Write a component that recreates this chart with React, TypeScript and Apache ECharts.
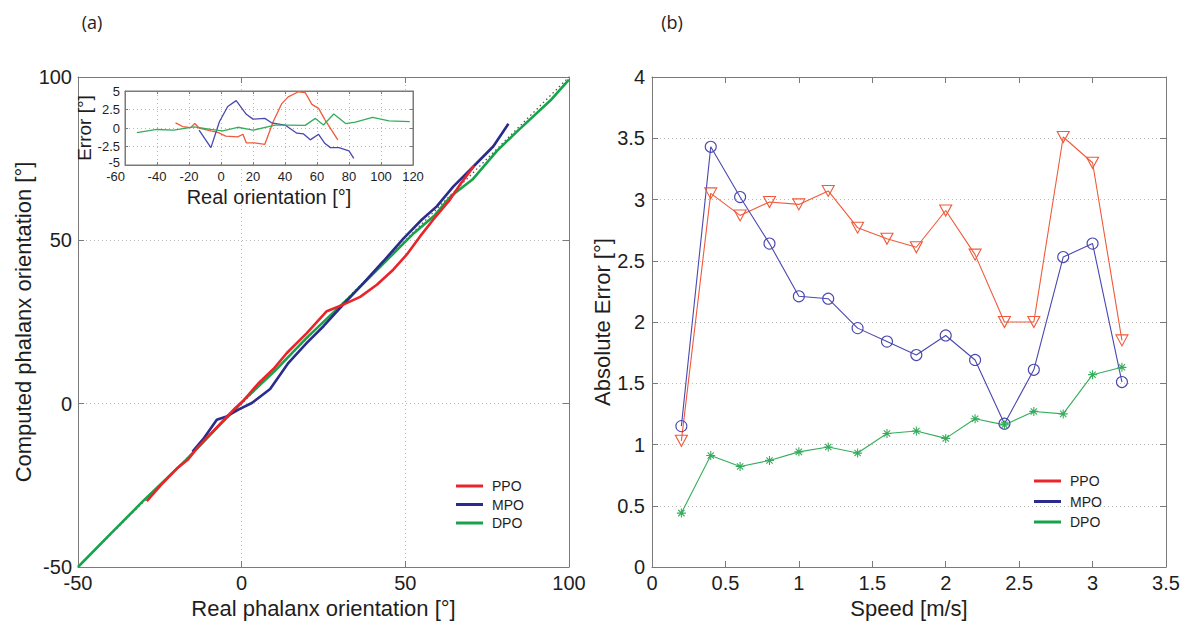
import React, { useEffect, useRef } from "react";
import * as echarts from "echarts";

// ---------- Panel (a): computed vs real orientation ----------
const ppoMain: [number, number][] = [
  [-29, -29.8], [-24, -24.2], [-19.5, -19.6], [-16.5, -17.2], [-13.5, -13.5], [-6.3, -5.9],
  [-2, -1.4], [0.5, 0.9], [5, 6.1], [9.7, 10.6], [13.8, 15.5], [19.9, 21.6], [26, 28.3],
  [31, 30.3], [36.2, 32.7], [41.3, 36.4], [46.3, 41], [50.4, 45.6], [54.5, 51.2],
  [58.5, 56.3], [63.6, 62.4], [67, 67.5], [71, 72.8],
];
const mpoMain: [number, number][] = [
  [-15, -14.7], [-11.5, -10.5], [-7.6, -4.9], [-4.6, -3.9], [-1, -1.8], [3.1, 0.2],
  [8.7, 4.5], [14.3, 12.5], [19.9, 18.6], [25, 23.7], [31, 30.3], [37.2, 36.9],
  [43.3, 43.6], [49.4, 50.5], [55, 56.3], [59.6, 60.4], [64.7, 66.5], [70.8, 72.6],
  [76.9, 78.8], [81.5, 85.7],
];
const dpoMain: [number, number][] = [
  [-50, -50], [-40, -39.8], [-30, -29.7], [-17, -17.2], [-6, -5.8], [1, 1.4], [10, 9.9],
  [20, 20.3], [33.7, 33.3], [42, 41.6], [52.6, 52.2], [59, 57.7], [64, 63.6], [70.5, 68.6],
  [78, 77.4], [84, 83.2], [94.7, 93.2], [100, 99.2],
];
const identityLine: [number, number][] = [[-50, -50], [100, 100]];

// ---------- Inset: error vs real orientation ----------
const ppoErr: [number, number][] = [
  [-28.4, 0.7], [-24, 0.2], [-19, 0.05], [-16.4, 0.6], [-13.7, 0], [-6.3, -0.4], [-2, -0.6],
  [3, -1.1], [10.5, -1.2], [13.7, -0.85], [15.8, -2.0], [21, -2.0], [27.4, -2.2],
  [32.6, 0.85], [38, 3.3], [42, 4.2], [48.4, 4.9], [52.6, 4.8], [56.8, 3.2], [61, 2.65],
  [65, 1.1], [73, -1.6],
];
const mpoErr: [number, number][] = [
  [-13.7, -0.3], [-6.3, -2.65], [-1, 0.85], [4.2, 2.9], [9.5, 3.7], [15.8, 1.85],
  [20, 1.2], [27.4, 1.3], [31.6, 0.7], [40, 0.4], [47.4, -0.7], [51.6, -0.8], [55.8, -1.6],
  [61, -0.85], [65, -2.1], [68.4, -2.65], [73.7, -2.65], [80, -3.1], [83, -4.1],
];
const dpoErr: [number, number][] = [
  [-52.6, -0.63], [-40, -0.2], [-29.5, -0.3], [-16.8, 0.15], [-6.3, -0.2], [1, -0.4],
  [10.5, 0.1], [20, -0.3], [33.7, 0.4], [42, 0.4], [52.6, 0.35], [59, 1.3], [64, 0.4],
  [70.5, 1.9], [77.9, 0.6], [84, 0.8], [94.7, 1.45], [105, 0.95], [118, 0.85],
];

// ---------- Panel (b): absolute error vs speed ----------
const speeds = [0.2, 0.4, 0.6, 0.8, 1.0, 1.2, 1.4, 1.6, 1.8, 2.0, 2.2, 2.4, 2.6, 2.8, 3.0, 3.2];
const ppoAbs = [1.03, 3.05, 2.87, 2.98, 2.96, 3.07, 2.77, 2.68, 2.61, 2.91, 2.55, 2.0, 2.0, 3.51, 3.3, 1.85];
const mpoAbs = [1.15, 3.43, 3.02, 2.64, 2.21, 2.19, 1.95, 1.84, 1.73, 1.89, 1.69, 1.17, 1.61, 2.53, 2.64, 1.51];
const dpoAbs = [0.44, 0.91, 0.82, 0.87, 0.94, 0.98, 0.93, 1.09, 1.11, 1.05, 1.21, 1.16, 1.27, 1.25, 1.57, 1.63];

const seriesNames = ["PPO", "MPO", "DPO"];

const FONT = "'Liberation Sans', Arial, Helvetica, sans-serif";
const AXIS_COLOR = "#7a7a7a";
const TEXT_COLOR = "#1e1e1e";
const GRID_LINE = { show: true, lineStyle: { color: "#b8b8b8", type: [1, 3] as any, width: 1 } };

const mainColors = ["#e8252a", "#2b2b8c", "#17a34a"];
const thinColors = ["#f05a3a", "#4a48b0", "#35ad5c"];

function pairs(xs: number[], ys: number[]) {
  return xs.map((x, i) => [x, ys[i]]);
}

function boxAxes(
  gridIndex: number,
  min: number,
  max: number,
  interval: number,
  dir: "x" | "y",
  opts: {
    labelSize: number; name?: string; nameSize?: number; nameGap?: number; split: boolean;
    tick: number; margin: number; z?: number; labelExtra?: any;
  }
) {
  const main: any = {
    type: "value",
    gridIndex,
    min,
    max,
    interval,
    position: dir === "x" ? "bottom" : "left",
    z: opts.z ?? 0,
    axisLine: { show: true, onZero: false, lineStyle: { color: AXIS_COLOR, width: 1 } },
    axisTick: { show: true, inside: true, length: opts.tick, lineStyle: { color: AXIS_COLOR } },
    axisLabel: {
      show: true, fontSize: opts.labelSize, color: TEXT_COLOR, fontFamily: FONT, margin: opts.margin,
      ...(opts.labelExtra || {}),
    },
    splitLine: opts.split ? GRID_LINE : { show: false },
    name: opts.name,
    nameLocation: "middle",
    nameGap: opts.nameGap,
    nameTextStyle: { fontSize: opts.nameSize, color: TEXT_COLOR, fontFamily: FONT },
  };
  const mirror: any = {
    type: "value",
    gridIndex,
    min,
    max,
    interval,
    position: dir === "x" ? "top" : "right",
    z: opts.z ?? 0,
    axisLine: { show: true, onZero: false, lineStyle: { color: AXIS_COLOR, width: 1 } },
    axisTick: { show: true, inside: true, length: opts.tick, lineStyle: { color: AXIS_COLOR } },
    axisLabel: { show: false },
    splitLine: { show: false },
  };
  return [main, mirror];
}

const triDown = "path://M0,0L10,0L5,8.66Z";
const asterisk = "path://M5,0L5,10M0,5L10,5M1.5,1.5L8.5,8.5M1.5,8.5L8.5,1.5";

function legendGraphic(x: number, y: number, colors: string[], gap: number) {
  const els: any[] = [];
  seriesNames.forEach((n, i) => {
    const cy = y + i * gap;
    els.push({
      type: "line",
      shape: { x1: x, y1: cy, x2: x + 27, y2: cy },
      style: { stroke: colors[i], lineWidth: 3 },
      z: 20,
    });
    els.push({
      type: "text",
      x: x + 36,
      y: cy,
      style: { text: n, fontSize: 14, fill: TEXT_COLOR, fontFamily: FONT, verticalAlign: "middle", align: "left" },
      z: 20,
    });
  });
  return els;
}

export default function App() {
  const ref = useRef<HTMLDivElement>(null);

  useEffect(() => {
    if (!ref.current) return;
    const chart = echarts.init(ref.current, undefined, { renderer: "svg" });

    const [mx0, mx1] = boxAxes(0, -50, 100, 50, "x", {
      labelSize: 20, name: "Real phalanx orientation [°]", nameSize: 22, nameGap: 30, split: true, tick: 6, margin: 6,
    });
    const [my0, my1] = boxAxes(0, -50, 100, 50, "y", {
      labelSize: 20, name: "Computed phalanx orientation [°]", nameSize: 22, nameGap: 44, split: true, tick: 6, margin: 6,
    });
    const [ix0, ix1] = boxAxes(1, -60, 120, 20, "x", {
      labelSize: 13, name: "Real orientation [°]", nameSize: 20, nameGap: 22, split: true, tick: 3, margin: 5, z: 6,
      labelExtra: { alignMinLabel: "right" },
    });
    const [iy0, iy1] = boxAxes(1, -5, 5, 2.5, "y", {
      labelSize: 13, name: "Error [°]", nameSize: 19, nameGap: 16, split: true, tick: 3, margin: 5, z: 6,
      labelExtra: {
        showMinLabel: true,
        hideOverlap: false,
        formatter: (v: number) => (v === -5 ? "{lo|-5}" : String(v)),
        rich: { lo: { fontSize: 13, color: TEXT_COLOR, fontFamily: FONT, padding: [0, 0, 6, 0] } },
      },
    });
    const [rx0, rx1] = boxAxes(2, 0, 3.5, 0.5, "x", {
      labelSize: 20, name: "Speed [m/s]", nameSize: 22, nameGap: 30, split: false, tick: 6, margin: 6,
    });
    const [ry0, ry1] = boxAxes(2, 0, 4, 0.5, "y", {
      labelSize: 20, name: "Absolute Error [°]", nameSize: 22, nameGap: 20, split: true, tick: 6, margin: 7,
    });

    const option: any = {
      animation: false,
      backgroundColor: "#ffffff",
      textStyle: { fontFamily: FONT },
      grid: [
        { left: 78, top: 77, width: 491, height: 490, containLabel: false },
        { left: 125, top: 91, width: 288, height: 74, show: true, backgroundColor: "#ffffff", borderColor: AXIS_COLOR, borderWidth: 1, z: 5 },
        { left: 652, top: 77, width: 514, height: 490 },
      ],
      xAxis: [mx0, mx1, ix0, ix1, rx0, rx1],
      yAxis: [my0, my1, iy0, iy1, ry0, ry1],
      series: [
        {
          name: "identity", type: "line", xAxisIndex: 0, yAxisIndex: 0, data: identityLine,
          showSymbol: false, symbol: "none", z: 1,
          lineStyle: { color: "#555", width: 1.3, type: [1.5, 3] },
        },
        ...[dpoMain, mpoMain, ppoMain].map((d, k) => {
          const i = 2 - k;
          return {
            name: seriesNames[i], type: "line", xAxisIndex: 0, yAxisIndex: 0, data: d,
            symbol: "none", z: 2 + k,
            lineStyle: { color: mainColors[i], width: 2.6 },
            itemStyle: { color: mainColors[i] },
          };
        }),
        ...[ppoErr, mpoErr, dpoErr].map((d, i) => ({
          name: seriesNames[i] + " error", type: "line", xAxisIndex: 2, yAxisIndex: 2, data: d,
          symbol: "none", z: 8,
          lineStyle: { color: thinColors[i], width: 1.3 },
          itemStyle: { color: thinColors[i] },
        })),
        {
          name: "PPO", type: "line", xAxisIndex: 4, yAxisIndex: 4, data: pairs(speeds, ppoAbs),
          symbol: triDown, symbolSize: [12, 11], z: 4,
          lineStyle: { color: thinColors[0], width: 1.1 },
          itemStyle: { color: "rgba(0,0,0,0)", borderColor: thinColors[0], borderWidth: 1.1 },
        },
        {
          name: "MPO", type: "line", xAxisIndex: 4, yAxisIndex: 4, data: pairs(speeds, mpoAbs),
          symbol: "circle", symbolSize: 11, z: 4,
          lineStyle: { color: thinColors[1], width: 1.1 },
          itemStyle: { color: "rgba(0,0,0,0)", borderColor: thinColors[1], borderWidth: 1.1 },
        },
        {
          name: "DPO", type: "line", xAxisIndex: 4, yAxisIndex: 4, data: pairs(speeds, dpoAbs),
          symbol: asterisk, symbolSize: 9, z: 4,
          lineStyle: { color: thinColors[2], width: 1.1 },
          itemStyle: { color: "rgba(0,0,0,0)", borderColor: thinColors[2], borderWidth: 1.1 },
        },
      ],
      graphic: [
        { type: "text", x: 92, y: 22, style: { text: "(a)", fontSize: 18, fill: TEXT_COLOR, fontFamily: "'Open Sans', sans-serif", align: "center", verticalAlign: "middle" } },
        { type: "text", x: 672, y: 22, style: { text: "(b)", fontSize: 18, fill: TEXT_COLOR, fontFamily: "'Open Sans', sans-serif", align: "center", verticalAlign: "middle" } },
        ...legendGraphic(456, 486, mainColors, 18.5),
        ...legendGraphic(1034, 481, mainColors, 20.5),
      ],
    };

    chart.setOption(option);
    return () => chart.dispose();
  }, []);

  return (
    <div
      ref={ref}
      style={{ position: "absolute", left: 0, top: 0, width: 1198, height: 637, background: "#fff" }}
    />
  );
}
